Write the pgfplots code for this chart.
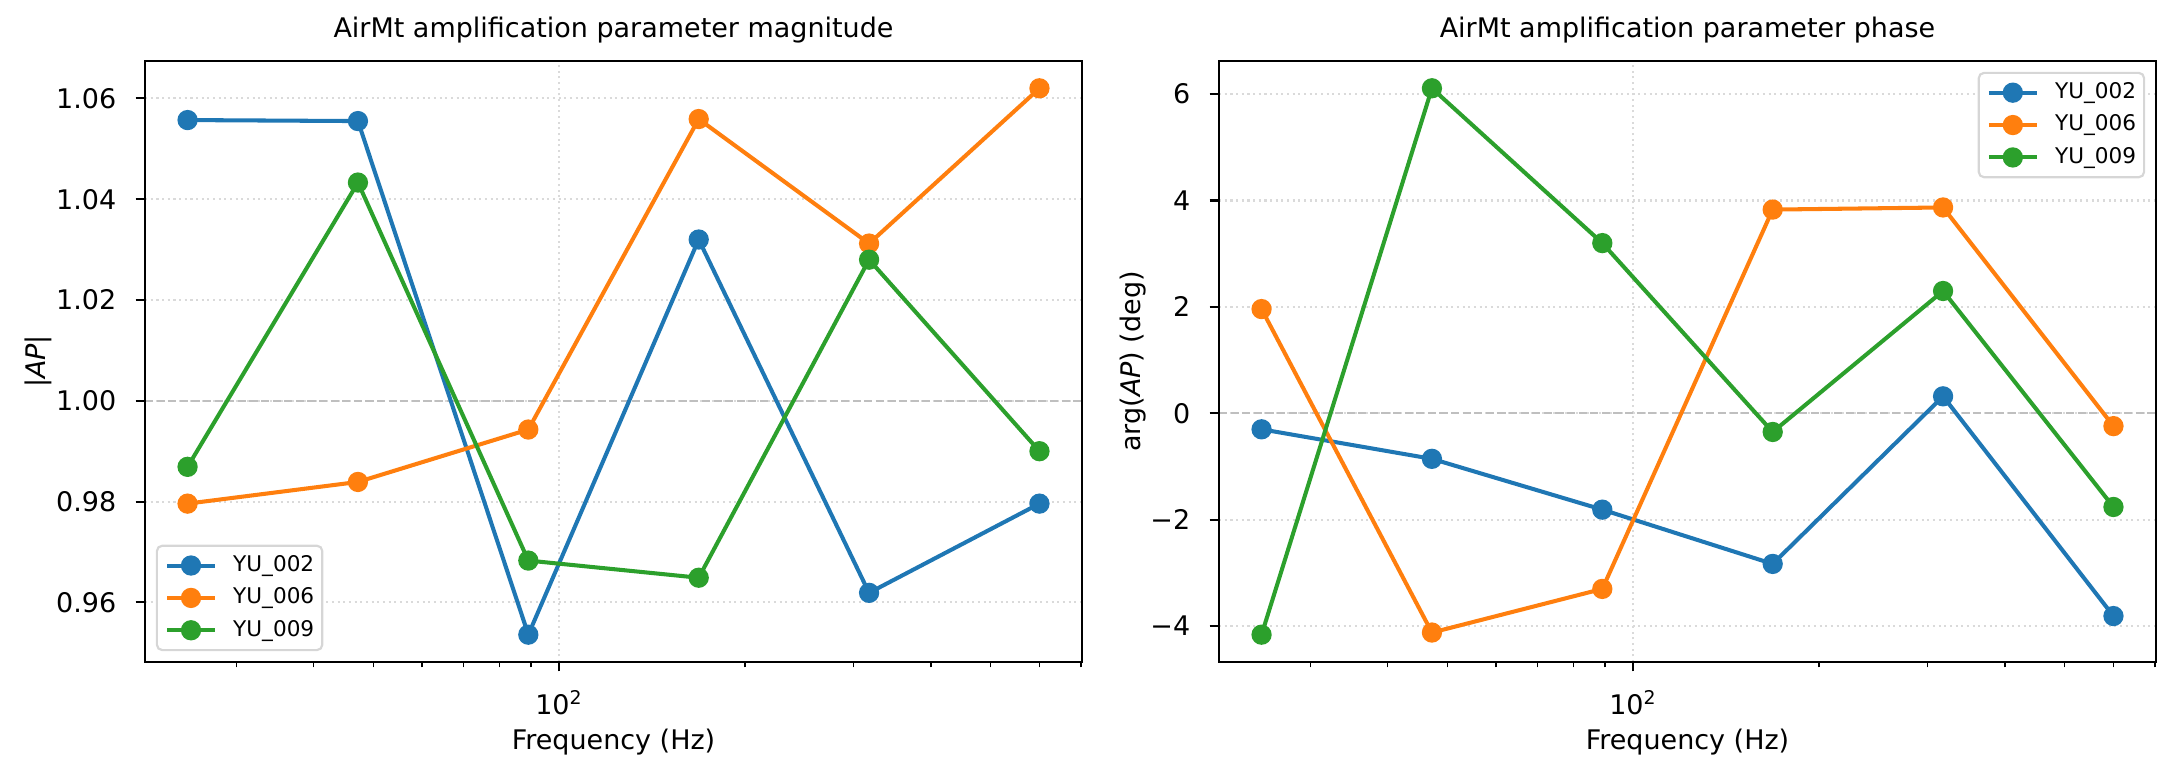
\documentclass[border=0pt]{standalone}
\usepackage{fontspec}
\setmainfont{DejaVu Sans}
\usepackage{pgfplots}
\usepackage{pgfplotstable}
\pgfplotsset{compat=1.18}
\definecolor{c0}{HTML}{1F77B4}
\definecolor{c1}{HTML}{FF7F0E}
\definecolor{c2}{HTML}{2CA02C}
\definecolor{refgray}{HTML}{BFBFBF}
\definecolor{gridgray}{HTML}{DADADA}
\definecolor{leggray}{HTML}{D6D6D6}

\pgfplotstableread{
f a002 a006 a009
25.0 1.0557 0.9796 0.9869
47.205 1.0555 0.9839 1.0433
89.13 0.9536 0.9943 0.9683
168.30 1.0320 1.0559 0.9649
317.78 0.9619 1.0312 1.0280
600.0 0.9796 1.0620 0.9900
}\magtable

\pgfplotstableread{
f p002 p006 p009
25.0 -0.30 1.96 -4.16
47.205 -0.855 -4.12 6.11
89.13 -1.81 -3.30 3.20
168.30 -2.83 3.83 -0.35
317.78 0.32 3.87 2.30
600.0 -3.81 -0.24 -1.76
}\phasetable

\pgfplotsset{
  mychart/.style={
    scale only axis, width=345.97bp, height=221.91bp, anchor=south west,
    xmin=21.33, xmax=703.3,
    xtick={100}, xticklabels={10\textsuperscript{2}},
    minor xtick={30,40,50,60,70,80,90,200,300,400,500,600,700},
    axis lines=box,
    tick pos=left, tick align=outside,
    major tick length=3.5pt, minor tick length=2pt,
    major tick style={black, line width=0.8pt},
    minor tick style={black, line width=0.6pt},
    axis line style={black, line width=0.8pt},
    xmajorgrids, ymajorgrids,
    major grid style={gridgray, line width=0.8pt, dash pattern=on 0.8pt off 1.3pt},
    tick label style={font=\fontsize{10}{12}\selectfont},
    /pgf/number format/assume math mode=true,
    xticklabel style={anchor=north, inner sep=0pt, yshift=-7pt},
    yticklabel style={anchor=east, inner sep=0pt, xshift=-7pt},
    title style={font=\fontsize{10}{12}\selectfont, at={(axis description cs:0.5,1)}, anchor=south, inner sep=0pt, yshift=0.4pt},
    xlabel={Frequency (Hz)},
    xlabel style={font=\fontsize{10}{12}\selectfont, at={(axis description cs:0.5,0)}, anchor=center, yshift=-29.7bp},
    ylabel style={font=\fontsize{10}{12}\selectfont, anchor=center},
    legend cell align=left,
    legend image code/.code={\draw[mark repeat=2,mark phase=2] plot coordinates {(0pt,0pt) (8.9pt,0pt) (17.8pt,0pt)};\path (23.8pt,0pt);},
    legend style={font=\fontsize{8}{9.6}\selectfont, draw=leggray, line width=0.8pt, rounded corners=2pt, fill=white,
      inner xsep=3pt, inner ysep=3.5pt, row sep=4.3pt,
      nodes={inner sep=0pt, text height=6pt, text depth=1.7pt}},
    every axis plot/.append style={line width=1.5pt, mark=*, mark size=3pt, mark options={solid}},
  }
}

\begin{document}
\begin{tikzpicture}
\useasboundingbox (0,0) rectangle (803.45bp,285.05bp);

\begin{semilogxaxis}[mychart, at={(53.54bp,40.62bp)},
  ymin=0.94818, ymax=1.06742,
  ytick={0.96,0.98,1.00,1.02,1.04,1.06},
  yticklabel style={/pgf/number format/fixed, /pgf/number format/fixed zerofill, /pgf/number format/precision=2},
  title={AirMt amplification parameter magnitude},
  ylabel={|\textit{AP}|},
  ylabel style={at={(axis description cs:-0.1142,0.5)}},
  legend style={at={(axis description cs:0,0)}, anchor=south west, xshift=4pt, yshift=4pt},
]
\addplot[refgray, line width=0.8pt, dash pattern=on 3pt off 1.3pt, mark=none, forget plot] coordinates {(21.33,1) (703.3,1)};
\addplot[c0] table[x=f, y=a002] {\magtable};
\addplot[c1] table[x=f, y=a006] {\magtable};
\addplot[c2] table[x=f, y=a009] {\magtable};
\legend{YU\_002, YU\_006, YU\_009}
\draw[black, line width=0.8pt] (rel axis cs:0,0) rectangle (rel axis cs:1,1);
\end{semilogxaxis}

\begin{semilogxaxis}[mychart, at={(450.09bp,40.62bp)},
  ymin=-4.6735, ymax=6.6235,
  ytick={-4,-2,0,2,4,6},
  yticklabels={−4,−2,0,2,4,6},
  title={AirMt amplification parameter phase},
  ylabel={arg(\textit{AP}) (deg)},
  ylabel style={at={(axis description cs:-0.0918,0.5)}},
  legend style={at={(axis description cs:1,1)}, anchor=north east, xshift=-4pt, yshift=-4pt},
]
\addplot[refgray, line width=0.8pt, dash pattern=on 3pt off 1.3pt, mark=none, forget plot] coordinates {(21.33,0) (703.3,0)};
\addplot[c0] table[x=f, y=p002] {\phasetable};
\addplot[c1] table[x=f, y=p006] {\phasetable};
\addplot[c2] table[x=f, y=p009] {\phasetable};
\legend{YU\_002, YU\_006, YU\_009}
\draw[black, line width=0.8pt] (rel axis cs:0,0) rectangle (rel axis cs:1,1);
\end{semilogxaxis}
\end{tikzpicture}
\end{document}
